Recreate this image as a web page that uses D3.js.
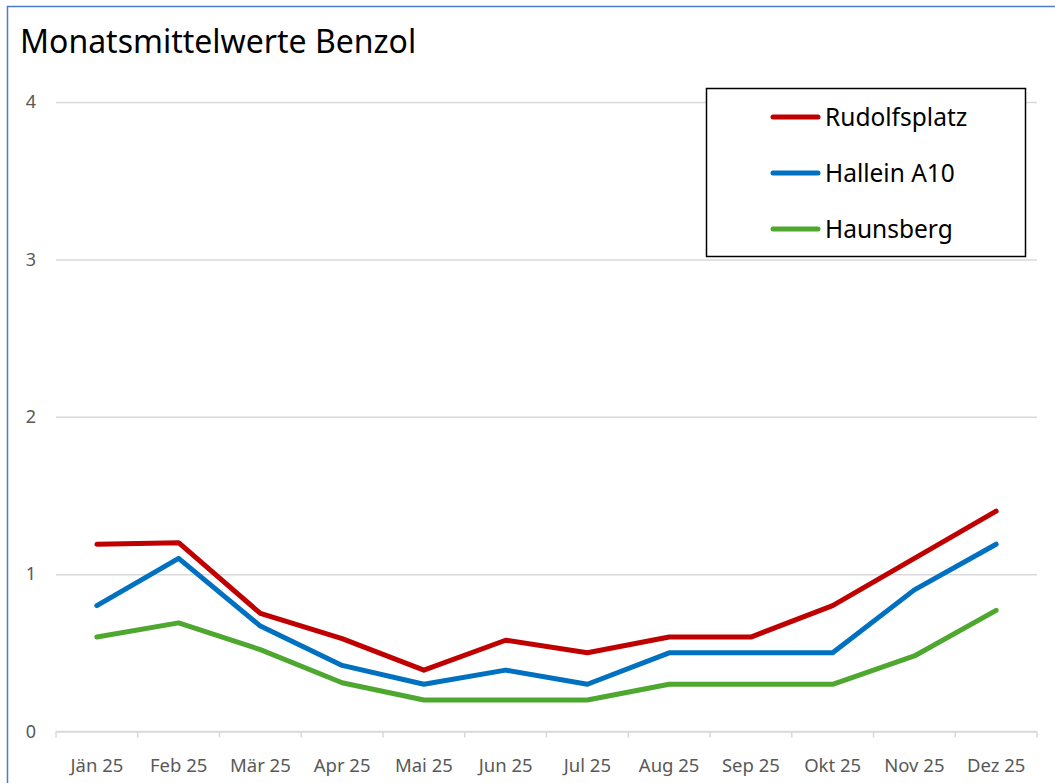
<!DOCTYPE html>
<html>
<head>
    <meta charset="utf-8">
    <title>Monatsmittelwerte Benzol</title>
    <script src="https://d3js.org/d3.v7.min.js"></script>
    <style>
        body { margin: 0; background: #fff; }
        svg { font-family: "Noto Sans", "Open Sans", sans-serif; display: block; }
    </style>
</head>
<body>
<script>
// chart data
var months = ["Jän 25", "Feb 25", "Mär 25", "Apr 25", "Mai 25", "Jun 25",
              "Jul 25", "Aug 25", "Sep 25", "Okt 25", "Nov 25", "Dez 25"];
var seriesNames = ["Rudolfsplatz", "Hallein A10", "Haunsberg"];
var rudolfsplatz = [1.19, 1.2, 0.75, 0.59, 0.39, 0.58, 0.5, 0.6, 0.6, 0.8, 1.1, 1.4];
var hallein = [0.8, 1.1, 0.67, 0.42, 0.3, 0.39, 0.3, 0.5, 0.5, 0.5, 0.9, 1.19];
var haunsberg = [0.6, 0.69, 0.52, 0.31, 0.2, 0.2, 0.2, 0.3, 0.3, 0.3, 0.48, 0.77];
var yTicks = [0, 1, 2, 3, 4];

var colors = ["#C00000", "#0070C0", "#4EA72E"];
var series = [rudolfsplatz, hallein, haunsberg];

var width = 1055, height = 783;
var plot = { left: 56, right: 1037, top: 102, bottom: 731.5 };

var svg = d3.select("body").append("svg")
    .attr("width", width)
    .attr("height", height);

// outer frame (only left and top edge visible)
svg.append("path")
    .attr("d", "M7.5," + height + "V6.5H" + width)
    .attr("fill", "none")
    .attr("stroke", "#4A7EC4")
    .attr("stroke-width", 1.5);

svg.append("text")
    .attr("x", 20)
    .attr("y", 53)
    .attr("font-size", 32)
    .attr("fill", "#000")
    .text("Monatsmittelwerte Benzol");

var x = d3.scaleBand()
    .domain(months)
    .range([plot.left, plot.right]);

var y = d3.scaleLinear()
    .domain([0, 4])
    .range([plot.bottom, plot.top]);

// gridlines + y labels
var yAxis = d3.axisLeft(y)
    .tickValues(yTicks)
    .tickSize(-(plot.right - plot.left))
    .tickPadding(18)
    .tickFormat(d3.format("d"));

var gy = svg.append("g")
    .attr("transform", "translate(" + plot.left + ",0)")
    .call(yAxis);
gy.select(".domain").remove();
gy.selectAll(".tick line").attr("stroke", "#D9D9D9").attr("stroke-width", 1.5);
gy.selectAll(".tick text")
    .attr("fill", "#595959")
    .attr("font-size", 18)
    .attr("font-family", "Noto Sans")
    .attr("text-anchor", "middle")
    .attr("x", -25);

// x axis with tick marks at category boundaries
var gx = svg.append("g")
    .attr("transform", "translate(0," + plot.bottom + ")");
gx.append("line")
    .attr("x1", plot.left).attr("x2", plot.right)
    .attr("stroke", "#D9D9D9").attr("stroke-width", 1.5);
var bounds = months.map(function (m) { return x(m); }).concat([plot.right]);
gx.selectAll("line.tk")
    .data(bounds)
    .enter().append("line")
    .attr("class", "tk")
    .attr("x1", function (d) { return d; })
    .attr("x2", function (d) { return d; })
    .attr("y1", 0).attr("y2", 6)
    .attr("stroke", "#D9D9D9").attr("stroke-width", 1.5);
gx.selectAll("text")
    .data(months)
    .enter().append("text")
    .attr("x", function (d) { return x(d) + x.bandwidth() / 2; })
    .attr("y", 40)
    .attr("text-anchor", "middle")
    .attr("font-size", 18.5)
    .attr("fill", "#595959")
    .text(function (d) { return d; });

// lines
var line = d3.line()
    .x(function (d, i) { return x(months[i]) + x.bandwidth() / 2; })
    .y(function (d) { return y(d); });

svg.selectAll("path.series")
    .data(series)
    .enter().append("path")
    .attr("class", "series")
    .attr("d", line)
    .attr("fill", "none")
    .attr("stroke", function (d, i) { return colors[i]; })
    .attr("stroke-width", 5)
    .attr("stroke-linejoin", "round")
    .attr("stroke-linecap", "round");

// legend
var legend = svg.append("g");
legend.append("rect")
    .attr("x", 706.5).attr("y", 88.5)
    .attr("width", 319).attr("height", 168)
    .attr("fill", "#fff")
    .attr("stroke", "#000")
    .attr("stroke-width", 1.5);

var items = legend.selectAll("g.item")
    .data(seriesNames)
    .enter().append("g")
    .attr("class", "item")
    .attr("transform", function (d, i) { return "translate(0," + (117 + i * 56) + ")"; });
items.append("line")
    .attr("x1", 773).attr("x2", 818)
    .attr("stroke", function (d, i) { return colors[i]; })
    .attr("stroke-width", 5)
    .attr("stroke-linecap", "round");
items.append("text")
    .attr("x", 825)
    .attr("y", 8.5)
    .attr("font-size", 24.5)
    .attr("fill", "#000")
    .text(function (d) { return d; });
</script>
</body>
</html>
